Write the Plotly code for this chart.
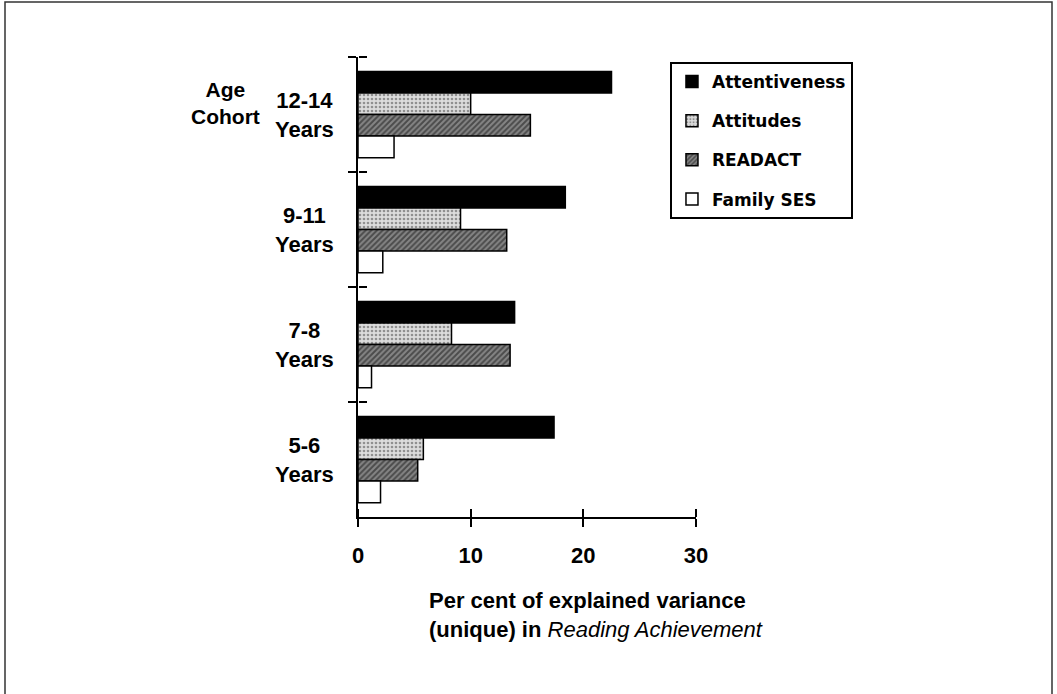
import plotly.graph_objects as go

# ---- data ----
cohorts = ["12-14", "9-11", "7-8", "5-6"]
cohort_labels = ["12-14<br>Years", "9-11<br>Years", "7-8<br>Years", "5-6<br>Years"]
series_names = ["Attentiveness", "Attitudes", "READACT", "Family SES"]
attentiveness = [22.5, 18.4, 13.9, 17.4]
attitudes = [10.0, 9.1, 8.3, 5.8]
readact = [15.3, 13.2, 13.5, 5.3]
family_ses = [3.2, 2.2, 1.2, 2.0]
x_ticks = [0, 10, 20, 30]

FONT = "Liberation Sans, Arial, sans-serif"

styles = [
    dict(color="black"),
    dict(color="#d4d4d4", pattern=dict(shape=".", fgcolor="#444444", bgcolor="#dcdcdc", size=4, solidity=0.35)),
    dict(color="#707070", pattern=dict(shape="/", fgcolor="#111111", bgcolor="#858585", size=4, solidity=0.5)),
    dict(color="white"),
]

fig = go.Figure()
for name, vals, st in zip(series_names, [attentiveness, attitudes, readact, family_ses], styles):
    marker = dict(st)
    marker["line"] = dict(color="black", width=1.5)
    fig.add_trace(go.Bar(
        y=cohorts, x=vals, name=name, orientation="h",
        marker=marker, legendgroup=name, hoverinfo="x+name",
    ))

# invisible helper traces so the secondary axes (inner half of crossing ticks) get drawn
fig.add_trace(go.Scatter(
    x=[0] * len(cohorts), y=cohorts, xaxis="x", yaxis="y2",
    mode="markers", marker=dict(opacity=0), showlegend=False, hoverinfo="skip",
))
fig.add_trace(go.Scatter(
    x=x_ticks, y=[cohorts[0]] * len(x_ticks), xaxis="x2", yaxis="y",
    mode="markers", marker=dict(opacity=0), showlegend=False, hoverinfo="skip",
))

annotations = []
for c, lab in zip(cohorts, cohort_labels):
    annotations.append(dict(
        x=-0.157, xref="paper", y=c, yref="y", text=lab, showarrow=False,
        xanchor="center", yanchor="middle", align="center",
        font=dict(family=FONT, size=22, color="black", weight="bold"),
    ))
annotations.append(dict(
    x=-0.393, xref="paper", y=0.899, yref="paper", text="Age<br>Cohort",
    showarrow=False, xanchor="center", yanchor="middle", align="center",
    font=dict(family=FONT, size=21, color="black", weight="bold"),
))
annotations.append(dict(
    x=0.204, xref="paper", y=-0.213, yref="paper",
    text="Per cent of explained variance<br>(unique) in <i><span style='font-weight:normal'>Reading Achievement</span></i>",
    showarrow=False, xanchor="left", yanchor="middle", align="left",
    font=dict(family=FONT, size=22, color="black", weight="bold"),
))

n = len(cohorts)
fig.update_layout(
    width=1057, height=694,
    margin=dict(l=358, r=361, t=57, b=177),
    paper_bgcolor="white", plot_bgcolor="white",
    barmode="group", bargap=0.25, bargroupgap=0,
    font=dict(family=FONT, size=22, color="black", weight="bold"),
    showlegend=True,
    legend=dict(
        x=0.923, y=0.989, xanchor="left", yanchor="top",
        bgcolor="white", bordercolor="black", borderwidth=2,
        font=dict(family="DejaVu Sans", size=17, color="black", weight="bold"),
        tracegroupgap=14, traceorder="grouped",
    ),
    xaxis=dict(
        range=[0, 30], tickvals=x_ticks, ticks="outside", ticklen=8, tickwidth=2,
        tickcolor="black", showline=True, linewidth=2, linecolor="black",
        showgrid=False, zeroline=False, ticklabelstandoff=10,
        tickfont=dict(family=FONT, size=22, color="black", weight="bold"),
    ),
    yaxis=dict(
        type="category", categoryorder="array", categoryarray=cohorts,
        range=[n - 0.5, -0.5], tickson="boundaries", ticks="outside", ticklen=8,
        tickwidth=2, tickcolor="black", showticklabels=False, showline=True,
        linewidth=2, linecolor="black", showgrid=False, zeroline=False,
    ),
    xaxis2=dict(
        overlaying="x", anchor="free", position=0, side="top", range=[0, 30],
        tickvals=x_ticks, ticks="outside", ticklen=8, tickwidth=2, tickcolor="black",
        showticklabels=False, showgrid=False, zeroline=False, showline=False,
    ),
    yaxis2=dict(
        overlaying="y", anchor="free", position=0, side="right", type="category",
        categoryorder="array", categoryarray=cohorts, range=[n - 0.5, -0.5],
        tickson="boundaries", ticks="outside", ticklen=8, tickwidth=2, tickcolor="black",
        showticklabels=False, showgrid=False, zeroline=False, showline=False,
    ),
    annotations=annotations,
    shapes=[dict(
        type="rect", xref="paper", yref="paper",
        x0=(5 - 358) / 338, x1=(1052 - 358) / 338,
        y0=(517 - 700) / 460, y1=(517 - 2) / 460,
        line=dict(color="#333333", width=1.5), fillcolor="rgba(0,0,0,0)", layer="below",
    )],
)

fig.write_html("out.html", config={"displayModeBar": False},
               post_script="document.body.style.margin='0';")
